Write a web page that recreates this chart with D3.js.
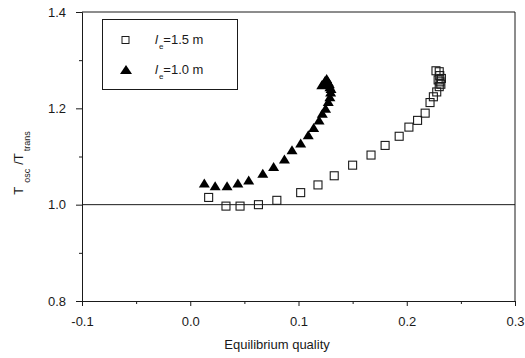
<!DOCTYPE html>
<meta charset="utf-8">
<title>Oscillation / transition ratio</title>
<script src="https://d3js.org/d3.v7.min.js"></script>
<style>
body { margin: 0; background: #fff; }
svg { font-family: Arial, "Liberation Sans", sans-serif; }
</style>
<div id="chart"></div>
<script>
// le = 1.5 m (open squares)
const sqX = [0.017, 0.033, 0.046, 0.063, 0.080, 0.102, 0.118, 0.133, 0.150, 0.167, 0.180, 0.193, 0.202, 0.210, 0.217, 0.2215, 0.2246, 0.2277, 0.230, 0.2307, 0.232, 0.2315, 0.229, 0.2305, 0.227, 0.230];
const sqY = [1.015, 0.997, 0.997, 1.000, 1.009, 1.025, 1.041, 1.060, 1.082, 1.103, 1.123, 1.142, 1.161, 1.175, 1.190, 1.212, 1.224, 1.234, 1.245, 1.255, 1.262, 1.250, 1.259, 1.268, 1.278, 1.276];
// le = 1.0 m (filled triangles)
const triX = [0.013, 0.023, 0.034, 0.044, 0.054, 0.067, 0.077, 0.087, 0.094, 0.102, 0.109, 0.114, 0.119, 0.122, 0.125, 0.1275, 0.129, 0.1297, 0.130, 0.129, 0.1275, 0.126, 0.1245, 0.123, 0.1215, 0.1285];
const triY = [1.044, 1.038, 1.038, 1.044, 1.050, 1.064, 1.078, 1.094, 1.113, 1.127, 1.144, 1.159, 1.175, 1.189, 1.199, 1.213, 1.223, 1.233, 1.240, 1.244, 1.254, 1.261, 1.257, 1.250, 1.248, 1.250];

const xMajor = [-0.1, 0.0, 0.1, 0.2, 0.3];
const xMinor = [-0.05, 0.05, 0.15, 0.25];
const yMajor = [0.8, 1.0, 1.2, 1.4];
const yMinor = [0.9, 1.1, 1.3];
const legendLabels = ["=1.5 m", "=1.0 m"];

const W = 525, H = 358;
const ink = "#1a1a1a";

const svg = d3.select("#chart").append("svg")
    .attr("width", W)
    .attr("height", H);

const x = d3.scaleLinear().domain([-0.1, 0.3]).range([82, 515]);
const y = d3.scaleLinear().domain([0.8, 1.4]).range([301, 12]);

const fmt = d => d.toFixed(1);

// axes
svg.append("g").attr("transform", `translate(0,${y(0.8)})`)
    .call(d3.axisBottom(x).tickValues(xMajor).tickFormat(fmt).tickSize(5).tickPadding(11).tickSizeOuter(0));
svg.append("g").attr("transform", `translate(0,${y(0.8)})`)
    .call(d3.axisBottom(x).tickValues(xMinor).tickFormat("").tickSize(3).tickSizeOuter(0));
svg.append("g").attr("transform", `translate(${x(-0.1)},0)`)
    .call(d3.axisLeft(y).tickValues(yMajor).tickFormat(fmt).tickSize(6).tickPadding(10).tickSizeOuter(0));
svg.append("g").attr("transform", `translate(${x(-0.1)},0)`)
    .call(d3.axisLeft(y).tickValues(yMinor).tickFormat("").tickSize(3).tickSizeOuter(0));

svg.selectAll(".domain, .tick line").attr("stroke", ink);
svg.selectAll(".tick text").attr("fill", ink).style("font-size", "13px")
    .style("font-family", "Arial, 'Liberation Sans', sans-serif");

// frame top + right, reference line at 1.0
svg.append("path")
    .attr("d", `M${x(-0.1)},${y(1.4)}H${x(0.3)}V${y(0.8)}`)
    .attr("fill", "none").attr("stroke", ink);
svg.append("line")
    .attr("x1", x(-0.1)).attr("x2", x(0.3))
    .attr("y1", y(1.0)).attr("y2", y(1.0))
    .attr("stroke", ink);

// data
const sqData = sqX.map((v, i) => [v, sqY[i]]);
const triData = triX.map((v, i) => [v, triY[i]]);
const sq = 8;
const triPath = "M0,-5L5.5,4L-5.5,4Z";

svg.append("g").selectAll("path")
    .data(triData)
    .join("path")
    .attr("d", triPath)
    .attr("transform", d => `translate(${x(d[0])},${y(d[1])})`)
    .attr("fill", "#000");

svg.append("g").selectAll("rect")
    .data(sqData)
    .join("rect")
    .attr("x", d => x(d[0]) - sq / 2)
    .attr("y", d => y(d[1]) - sq / 2)
    .attr("width", sq).attr("height", sq)
    .attr("fill", "none")
    .attr("stroke", ink)
    .attr("stroke-width", 1.1);

// legend
svg.append("rect")
    .attr("x", 102.5).attr("y", 19.5)
    .attr("width", 135).attr("height", 70)
    .attr("fill", "#fff").attr("stroke", ink);
svg.append("rect")
    .attr("x", 122).attr("y", 36.5).attr("width", 7).attr("height", 7)
    .attr("fill", "none").attr("stroke", ink);
svg.append("path")
    .attr("d", "M0,-5L6,4L-6,4Z")
    .attr("transform", "translate(126,70)")
    .attr("fill", "#000");

legendLabels.forEach((lab, i) => {
    const t = svg.append("text")
        .attr("x", 155).attr("y", 44 + i * 30)
        .attr("fill", ink)
        .style("font-size", "13px");
    t.append("tspan").style("font-style", "italic").text("l");
    t.append("tspan").attr("dx", 1).attr("dy", 5).style("font-size", "8px").text("e");
    t.append("tspan").attr("dy", -5).text(lab);
});

// axis titles
svg.append("text")
    .attr("x", 277).attr("y", 349)
    .attr("text-anchor", "middle")
    .attr("fill", ink)
    .style("font-size", "13px")
    .text("Equilibrium quality");

const yl = svg.append("text")
    .attr("transform", "translate(23,163) rotate(-90)")
    .attr("text-anchor", "middle")
    .attr("fill", ink)
    .style("font-size", "13px");
yl.append("tspan").text("T");
yl.append("tspan").attr("dx", 4).attr("dy", 7).style("font-size", "9px").text("osc");
yl.append("tspan").attr("dx", 4).attr("dy", -7).text("/T");
yl.append("tspan").attr("dx", 2).attr("dy", 7).style("font-size", "9px").text("trans");
</script>
